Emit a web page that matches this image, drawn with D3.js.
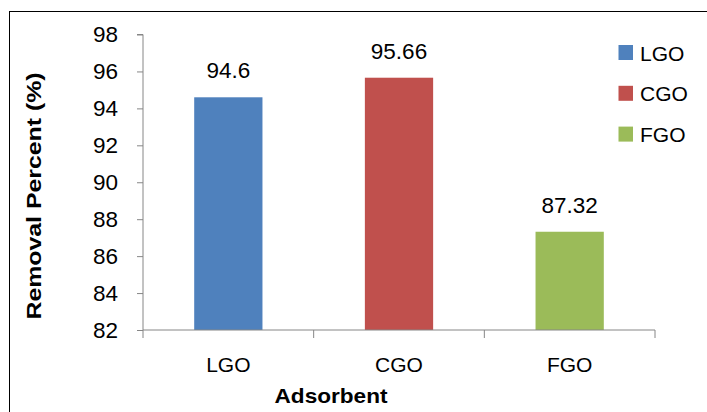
<!DOCTYPE html>
<html>
<head>
<meta charset="utf-8">
<script src="https://cdn.jsdelivr.net/npm/d3@7"></script>
<style>
  html, body { margin: 0; padding: 0; background: #fff; }
  svg { display: block; }
  text { font-family: "Liberation Sans", Arial, sans-serif; fill: #000; }
</style>
</head>
<body>
<svg id="chart" width="707" height="412"></svg>
<script>
const categories = ["LGO", "CGO", "FGO"];
const values = [94.6, 95.66, 87.32];
const colors = ["#4F81BD", "#C0504D", "#9BBB59"];
const yTicks = [82, 84, 86, 88, 90, 92, 94, 96, 98];
const yTitle = "Removal Percent (%)";
const xTitle = "Adsorbent";

const svg = d3.select("#chart");
const W = 707, H = 412;
const plot = { left: 143, right: 655, top: 34.5, bottom: 330 };

// outer frame
svg.append("rect")
  .attr("x", 9.5).attr("y", 11.5)
  .attr("width", W + 20).attr("height", H + 20)
  .attr("fill", "none").attr("stroke", "#000").attr("stroke-width", 1);

const x = d3.scaleBand().domain(categories).range([plot.left, plot.right]).paddingInner(0).paddingOuter(0);
const y = d3.scaleLinear().domain([82, 98]).range([plot.bottom, plot.top]);

const axisColor = "#868686";

// bars
const barW = x.bandwidth() * 0.4;
svg.selectAll("rect.bar").data(categories).enter().append("rect")
  .attr("class", "bar")
  .attr("x", d => x(d) + (x.bandwidth() - barW) / 2)
  .attr("y", (d, i) => y(values[i]))
  .attr("width", barW)
  .attr("height", (d, i) => y(82) - y(values[i]))
  .attr("fill", (d, i) => colors[i]);

// value labels
svg.selectAll("text.val").data(categories).enter().append("text")
  .attr("class", "val")
  .attr("x", d => x(d) + x.bandwidth() / 2)
  .attr("y", (d, i) => y(values[i]) - 19)
  .attr("text-anchor", "middle")
  .attr("font-size", 22.5)
  .text((d, i) => String(values[i]));

// y axis
const yAxis = d3.axisLeft(y).tickValues(yTicks).tickSize(6).tickPadding(19).tickFormat(d3.format("d"));
const gy = svg.append("g").attr("transform", `translate(${plot.left},0)`).call(yAxis);
gy.select(".domain").attr("stroke", axisColor).attr("d", `M-6,${y(98)}H0V${y(82)}`);
gy.selectAll(".tick line").attr("stroke", axisColor);
gy.selectAll(".tick text").attr("font-size", 22.5).attr("font-family", "Liberation Sans, Arial, sans-serif").attr("fill", "#000");

// x axis
const gx = svg.append("g").attr("transform", `translate(0,${plot.bottom})`);
gx.append("line").attr("x1", plot.left).attr("x2", plot.right).attr("y1", 0).attr("y2", 0).attr("stroke", axisColor);
const boundaries = categories.map(c => x(c)).concat([x(categories[categories.length - 1]) + x.bandwidth()]);
gx.selectAll("line.tk").data(boundaries).enter().append("line")
  .attr("class", "tk")
  .attr("x1", d => d).attr("x2", d => d)
  .attr("y1", 0).attr("y2", 8)
  .attr("stroke", axisColor);
gx.selectAll("text.cat").data(categories).enter().append("text")
  .attr("class", "cat")
  .attr("x", d => x(d) + x.bandwidth() / 2)
  .attr("y", 41.5)
  .attr("text-anchor", "middle")
  .attr("font-size", 21)
  .text(d => d);

// axis titles
svg.append("text")
  .attr("transform", `translate(41,196) rotate(-90)`)
  .attr("text-anchor", "middle")
  .attr("font-size", 21)
  .attr("font-weight", "bold")
  .attr("textLength", 247)
  .attr("lengthAdjust", "spacingAndGlyphs")
  .text(yTitle);
svg.append("text")
  .attr("x", 331).attr("y", 403)
  .attr("text-anchor", "middle")
  .attr("font-size", 21)
  .attr("font-weight", "bold")
  .attr("textLength", 113)
  .attr("lengthAdjust", "spacingAndGlyphs")
  .text(xTitle);

// legend
const lg = svg.append("g");
categories.forEach((c, i) => {
  const yy = 45 + i * 40.8;
  lg.append("rect").attr("x", 618.5).attr("y", yy).attr("width", 14.5).attr("height", 15).attr("fill", colors[i]);
  lg.append("text").attr("x", 640).attr("y", yy + 15.5).attr("font-size", 21).text(c);
});
</script>
</body>
</html>
